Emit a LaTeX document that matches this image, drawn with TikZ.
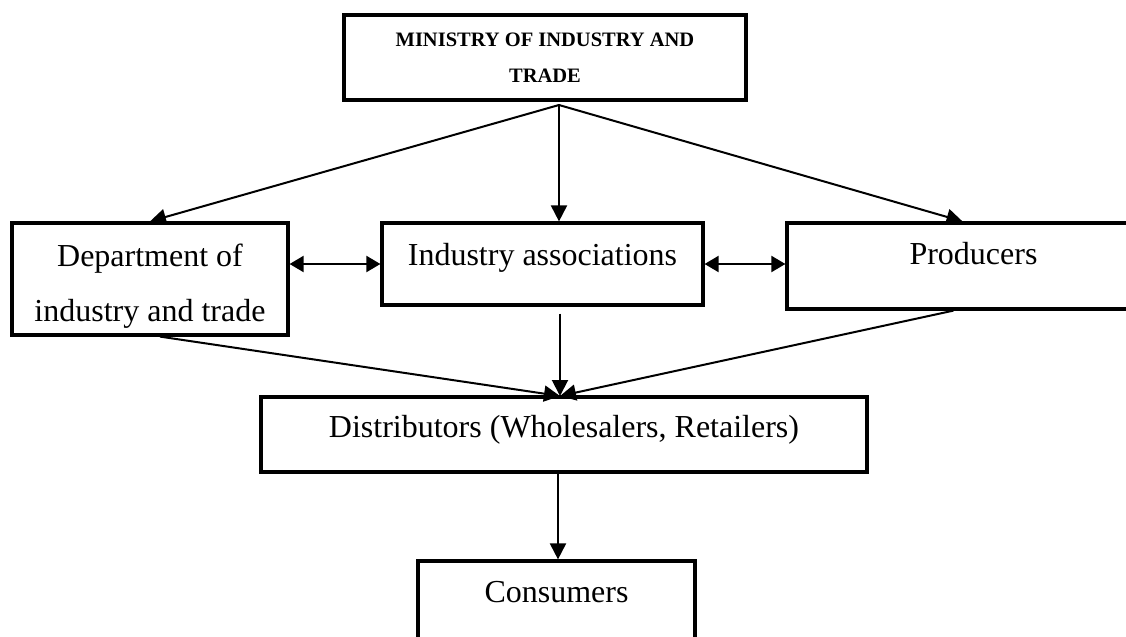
\documentclass[tikz,border=0pt]{standalone}
\usepackage{fontspec}
\setmainfont{Liberation Serif}
\usetikzlibrary{arrows.meta,positioning,calc}
\tikzset{sbox/.style={draw, line width=1.6pt, rectangle, inner sep=0pt, align=center, font=\fontsize{16}{27.5}\selectfont}}
\tikzset{arr/.style={draw, -{Triangle[length=8pt,width=8pt]}, line width=1pt}}
\tikzset{darr/.style={draw, {Triangle[length=7pt,width=8pt]}-{Triangle[length=7pt,width=8pt]}, line width=1pt}}

\begin{document}
\begin{tikzpicture}[x=0.5pt,y=-0.5pt]
			\clip (0,0) rectangle (1126,637);
			\node[sbox, minimum width=201pt, minimum height=42.5pt, font=\bfseries\fontsize{10.25}{18}\selectfont] (M) at (545,57.5) {MINISTRY OF INDUSTRY AND\\TRADE};
			\node[sbox, minimum width=138pt, minimum height=56pt] (D) at (150,279) {\rule{0pt}{18pt}Department of\\industry and trade};
			\node[sbox, minimum width=160.5pt, minimum height=41pt, text height=0.7em, text depth=0.6em] (IA) at (542.5,264) {Industry associations};
			\node[sbox, minimum width=186.5pt, minimum height=43pt, text height=0.7em, text depth=0.89em] (P) at (973.5,266) {Producers};
			\node[sbox, minimum width=303pt, minimum height=37.5pt, text height=0.7em, text depth=0.42em] (DW) at (564,434.5) {Distributors (Wholesalers, Retailers)};
			\node[sbox, minimum width=138.5pt, minimum height=42pt, text height=0.7em, text depth=0.76em] (C) at (556.5,603) {Consumers};
			
			\coordinate (mfork) at (559,105);
			\coordinate (dfork) at (560,396);
			
			% from the ministry
			\draw[arr] (mfork) -- (D.north);
			\draw[arr] (mfork) -- (mfork |- IA.north);
			\draw[arr] (mfork) -- ($(P.north)+(-11,0)$);
			
			% between the middle row
			\draw[darr] (D.east |- IA.east) -- (IA.west);
			\draw[darr] (IA.east) -- (P.west |- IA.east);
			
			% down to the distributors and consumers
			\draw[arr] ($(D.south)+(10,0)$) -- (dfork);
			\draw[arr, shorten <=3.5pt] (dfork |- IA.south) -- (dfork);
			\draw[arr] ($(P.south)+(-20,0)$) -- (dfork);
			\draw[arr] ($(DW.south)+(-6,0)$) -- ($(C.north)+(1.5,0)$);
		\end{tikzpicture}
\end{document}
